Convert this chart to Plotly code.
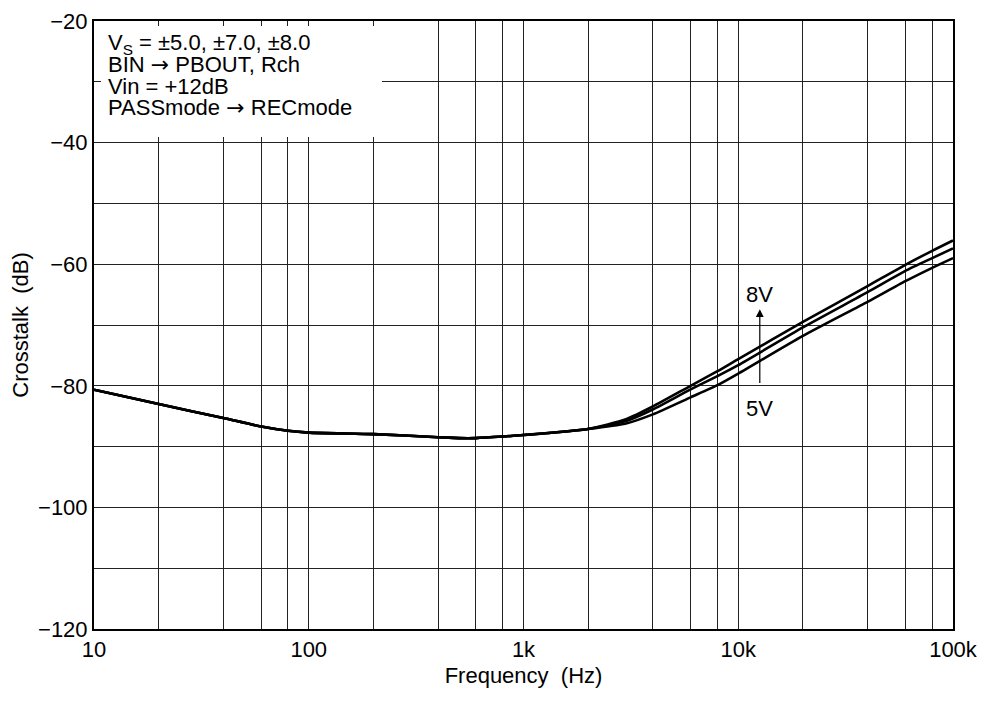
import math
import plotly.graph_objects as go

# ---------------- data ----------------
freq = [10, 20, 40, 60, 80, 100, 200, 400, 500, 600, 800, 1000, 2000,
        3000, 4000, 6000, 8000, 10000, 20000, 40000, 60000, 80000, 100000]
common = [-80.65, -83.0, -85.3, -86.7, -87.4, -87.7, -87.95, -88.45, -88.6,
          -88.6, -88.35, -88.1, -87.1]
v8_hi = [-85.5, -83.4, -80.0, -77.6, -75.6, -69.5, -63.6, -60.1, -57.8, -56.1]
v7_hi = [-85.8, -83.9, -80.6, -78.4, -76.6, -70.4, -64.6, -61.1, -59.0, -57.4]
v5_hi = [-86.2, -84.7, -81.9, -79.9, -78.0, -71.8, -66.2, -62.8, -60.6, -59.0]
vs8 = common + v8_hi
vs7 = common + v7_hi
vs5 = common + v5_hi

x_tickvals = [10, 20, 40, 60, 80, 100, 200, 400, 600, 800, 1000, 2000, 4000,
              6000, 8000, 10000, 20000, 40000, 60000, 80000, 100000]
x_major = {10: "10", 100: "100", 1000: "1k", 10000: "10k", 100000: "100k"}
y_tickvals = [-120, -110, -100, -90, -80, -70, -60, -50, -40, -30, -20]
y_major = {-120: "−120", -100: "−100", -80: "−80", -60: "−60", -40: "−40", -20: "−20"}

ARROW = '<span style="font-family:DejaVu Sans">→</span>'
info_lines = ["V<sub>S</sub> = ±5.0, ±7.0, ±8.0",
              "BIN " + ARROW + " PBOUT, Rch",
              "Vin = +12dB",
              "PASSmode " + ARROW + " RECmode"]

FONT = "Liberation Sans, Arial, Helvetica, sans-serif"
FS = 22

# plot-area geometry in page pixels (page body has an 8px default margin)
PL, PR, PT, PB = 94, 953, 21, 629
PW, PH = PR - PL, PB - PT

fig = go.Figure()
for ys in (vs5, vs7, vs8):
    fig.add_trace(go.Scatter(x=freq, y=ys, mode="lines",
                             line=dict(color="black", width=2.6, shape="spline", smoothing=0.6),
                             showlegend=False, hoverinfo="skip"))

fig.update_xaxes(type="log", range=[1, 5], automargin=False,
                 tickmode="array", tickvals=x_tickvals,
                 ticktext=[x_major.get(v, "") for v in x_tickvals],
                 showgrid=True, gridcolor="#222", gridwidth=1,
                 showline=True, linecolor="black", linewidth=2, mirror=True,
                 ticks="", zeroline=False, ticklabeloverflow="allow",
                 tickfont=dict(family=FONT, size=FS, color="black"),
                 title=dict(text="Frequency  (Hz)", standoff=6,
                            font=dict(family=FONT, size=FS, color="black")))
fig.update_yaxes(range=[-120, -20], automargin=False,
                 tickmode="array", tickvals=y_tickvals,
                 ticktext=[y_major.get(v, "") for v in y_tickvals],
                 showgrid=True, gridcolor="#222", gridwidth=1,
                 showline=True, linecolor="black", linewidth=2, mirror=True,
                 ticks="", zeroline=False, ticklabeloverflow="allow",
                 tickfont=dict(family=FONT, size=FS, color="black"),
                 title=dict(text="Crosstalk  (dB)", standoff=8,
                            font=dict(family=FONT, size=FS, color="black")))

# white info box (covers gridlines)
fig.add_shape(type="rect", xref="paper", yref="paper",
              x0=(101 - PL) / PW, x1=(382 - PL) / PW,
              y0=(PB - 137) / PH, y1=(PB - 26) / PH,
              fillcolor="white", line=dict(width=0), layer="above")

ys_px = [44, 65, 87, 108]
for txt, py in zip(info_lines, ys_px):
    fig.add_annotation(xref="paper", yref="paper", x=(107 - PL) / PW, y=(PB - py) / PH,
                       xanchor="left", yanchor="middle", text=txt, showarrow=False,
                       borderpad=0,
                       font=dict(family=FONT, size=FS, color="black"))

arrow_x = math.log10(12600)
fig.add_annotation(x=arrow_x, y=-67.4, ax=arrow_x, ay=-79.8, xref="x", yref="y",
                   axref="x", ayref="y", text="", showarrow=True,
                   arrowhead=2, arrowsize=1.3, arrowwidth=1.2, arrowcolor="black")
fig.add_annotation(x=arrow_x, y=-65.0, text="8V", showarrow=False,
                   font=dict(family=FONT, size=FS, color="black"))
fig.add_annotation(x=arrow_x, y=-83.8, text="5V", showarrow=False,
                   font=dict(family=FONT, size=FS, color="black"))

fig.update_layout(width=980, height=685,
                  margin=dict(l=PL - 8, r=980 - (PR - 8), t=PT - 8, b=685 - (PB - 8)),
                  plot_bgcolor="white", paper_bgcolor="white",
                  font=dict(family=FONT, size=FS, color="black"))

fig.write_html("out.html")
